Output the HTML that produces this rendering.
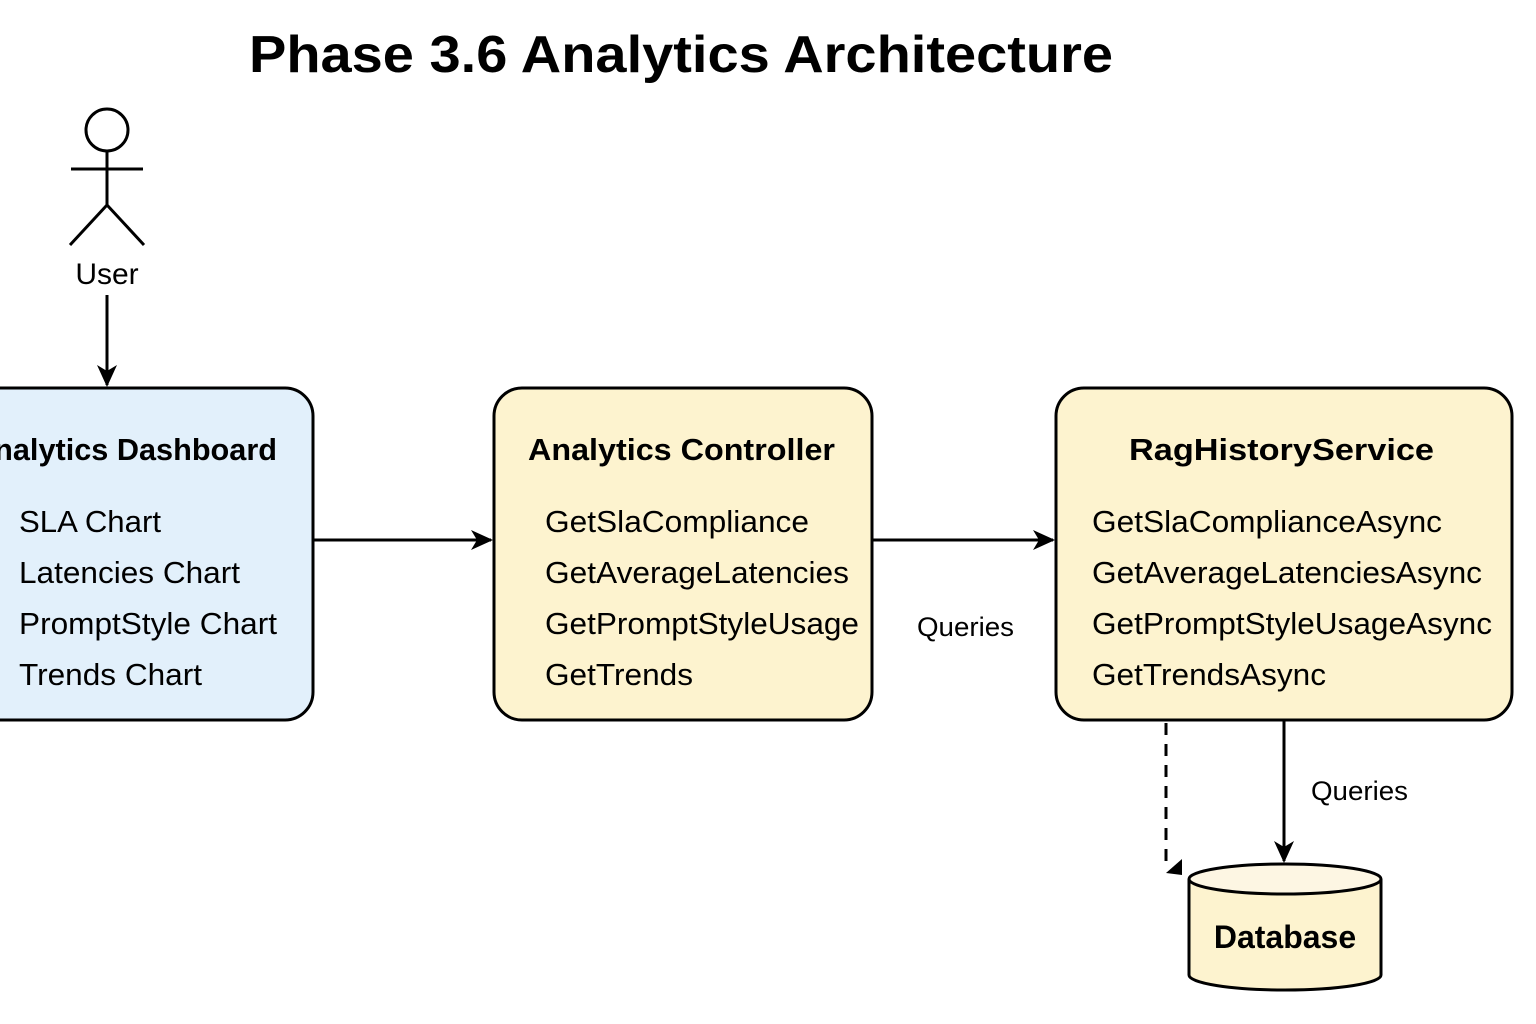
<!DOCTYPE html>
<html><head><meta charset="utf-8"><style>
html,body{margin:0;padding:0;background:#fff;}
svg{display:block;font-family:"Liberation Sans",Arial,sans-serif;}
</style></head><body>
<svg width="1536" height="1024" viewBox="0 0 1536 1024" xmlns="http://www.w3.org/2000/svg">
<defs>
<marker id="ah2" markerWidth="24" markerHeight="24" refX="20" refY="12" orient="auto" markerUnits="userSpaceOnUse" viewBox="0 0 24 24">
<path d="M0,2 L22,12 L0,22 L6,12 Z" fill="#000"/>
</marker>
</defs>
<rect width="1536" height="1024" fill="#fff"/>
<text x="249" y="72" font-size="52" font-weight="bold" textLength="864" lengthAdjust="spacingAndGlyphs">Phase 3.6 Analytics Architecture</text>

<circle cx="107" cy="130" r="21" fill="none" stroke="#000" stroke-width="3"/>
<line x1="107" y1="151" x2="107" y2="205" stroke="#000" stroke-width="3"/>
<line x1="71" y1="169" x2="143" y2="169" stroke="#000" stroke-width="3"/>
<line x1="107" y1="205" x2="70" y2="245" stroke="#000" stroke-width="3"/>
<line x1="107" y1="205" x2="144" y2="245" stroke="#000" stroke-width="3"/>
<text x="107" y="284" font-size="30" text-anchor="middle">User</text>
<line x1="107" y1="295" x2="107" y2="385" stroke="#000" stroke-width="3" marker-end="url(#ah2)"/>

<rect x="-40" y="388" width="353" height="332" rx="28" fill="#e2f0fb" stroke="#000" stroke-width="3"/>
<rect x="494" y="388" width="378" height="332" rx="28" fill="#fdf3cf" stroke="#000" stroke-width="3"/>
<rect x="1056" y="388" width="456" height="332" rx="28" fill="#fdf3cf" stroke="#000" stroke-width="3"/>

<g font-size="31" font-weight="bold">
<text x="-28" y="460" textLength="305" lengthAdjust="spacingAndGlyphs">Analytics Dashboard</text>
<text x="528" y="460" textLength="307" lengthAdjust="spacingAndGlyphs">Analytics Controller</text>
<text x="1129" y="460" textLength="305" lengthAdjust="spacingAndGlyphs">RagHistoryService</text>
</g>
<g font-size="31">
<text x="19" y="532" textLength="142" lengthAdjust="spacingAndGlyphs">SLA Chart</text>
<text x="19" y="583" textLength="221" lengthAdjust="spacingAndGlyphs">Latencies Chart</text>
<text x="19" y="634" textLength="258" lengthAdjust="spacingAndGlyphs">PromptStyle Chart</text>
<text x="19" y="685" textLength="183" lengthAdjust="spacingAndGlyphs">Trends Chart</text>
<text x="545" y="532" textLength="264" lengthAdjust="spacingAndGlyphs">GetSlaCompliance</text>
<text x="545" y="583" textLength="304" lengthAdjust="spacingAndGlyphs">GetAverageLatencies</text>
<text x="545" y="634" textLength="314" lengthAdjust="spacingAndGlyphs">GetPromptStyleUsage</text>
<text x="545" y="685" textLength="148" lengthAdjust="spacingAndGlyphs">GetTrends</text>
<text x="1092" y="532" textLength="350" lengthAdjust="spacingAndGlyphs">GetSlaComplianceAsync</text>
<text x="1092" y="583" textLength="390" lengthAdjust="spacingAndGlyphs">GetAverageLatenciesAsync</text>
<text x="1092" y="634" textLength="400" lengthAdjust="spacingAndGlyphs">GetPromptStyleUsageAsync</text>
<text x="1092" y="685" textLength="234" lengthAdjust="spacingAndGlyphs">GetTrendsAsync</text>
</g>

<line x1="314" y1="540" x2="491" y2="540" stroke="#000" stroke-width="3" marker-end="url(#ah2)"/>
<line x1="873" y1="540" x2="1053" y2="540" stroke="#000" stroke-width="3" marker-end="url(#ah2)"/>
<text x="917" y="636" font-size="27" textLength="97" lengthAdjust="spacingAndGlyphs">Queries</text>
<line x1="1284" y1="721" x2="1284" y2="861" stroke="#000" stroke-width="3" marker-end="url(#ah2)"/>
<text x="1311" y="800" font-size="27" textLength="97" lengthAdjust="spacingAndGlyphs">Queries</text>
<line x1="1166" y1="723" x2="1166" y2="870" stroke="#000" stroke-width="3" stroke-dasharray="12,9"/>
<path d="M1166,873 L1182,859 L1182,875 Z" fill="#000"/>

<path d="M1189,879 L1189,975 A96,15 0 0 0 1381,975 L1381,879" fill="#fdf3cf" stroke="#000" stroke-width="3"/>
<ellipse cx="1285" cy="879" rx="96" ry="15" fill="#fdf6e3" stroke="#000" stroke-width="3"/>
<text x="1285" y="948" font-size="32" font-weight="bold" text-anchor="middle">Database</text>
</svg>
</body></html>
